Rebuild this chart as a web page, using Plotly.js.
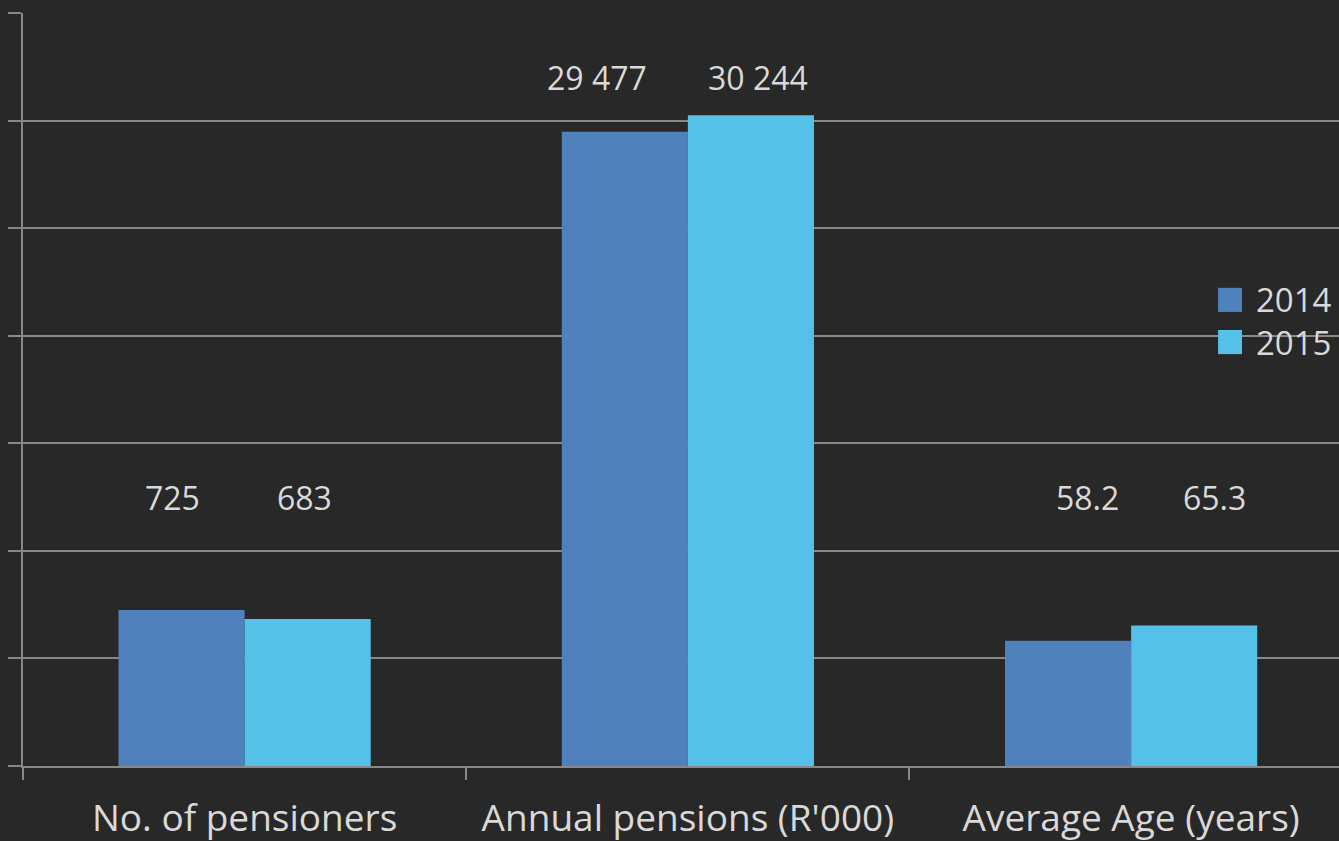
<!DOCTYPE html>
<html>
<head>
<meta charset="utf-8">
<script src="https://cdn.plot.ly/plotly-3.0.1.min.js"></script>
<style>
html,body{margin:0;padding:0;background:#282828;}
#chart{width:1339px;height:841px;}
</style>
</head>
<body>
<div id="chart"></div>
<script>
// Data
var categories = ["No. of pensioners", "Annual pensions (R'000)", "Average Age (years)"];
var values2014 = [725, 29477, 58.2];
var values2015 = [683, 30244, 65.3];
// The original chart draws each category on its own scale (R'000 /10, years x10)
var scaleFactors = [1, 0.1, 10];
var decimals = [0, 0, 1];
var seriesNames = ["2014", "2015"];
var seriesColors = ["#4F81BD", "#55C0E8"];

function fmt(v, d) {
  var s = v.toFixed(d);
  var parts = s.split(".");
  parts[0] = parts[0].replace(/\B(?=(\d{3})+(?!\d))/g, " ");
  return parts.join(".");
}

var scaled2014 = values2014.map(function (v, i) { return v * scaleFactors[i]; });
var scaled2015 = values2015.map(function (v, i) { return v * scaleFactors[i]; });

var textColor = "#D9D9D9";
var gridColor = "#888888";
var font = "Open Sans, sans-serif";

var traces = [
  {type: "bar", name: seriesNames[0], x: categories, y: scaled2014,
   marker: {color: seriesColors[0]}, hoverinfo: "skip", showlegend: false},
  {type: "bar", name: seriesNames[1], x: categories, y: scaled2015,
   marker: {color: seriesColors[1]}, hoverinfo: "skip", showlegend: false}
];

// free-floating value labels: row height (data units) and pixel shift from category centre
var labelRowY = [1250, 3200, 1250];
var labelShift = [[-72, -91, -44], [60, 70, 83]];
var annotations = [];
[values2014, values2015].forEach(function (vals, s) {
  vals.forEach(function (v, i) {
    annotations.push({
      x: categories[i], y: labelRowY[i], xref: "x", yref: "y",
      xshift: labelShift[s][i],
      text: fmt(v, decimals[i]), showarrow: false,
      font: {family: font, size: 32, color: textColor}
    });
  });
});

// legend drawn as squares + text on the right
var shapes = [];
var legendRows = [0.619, 0.563];
seriesNames.forEach(function (name, s) {
  var yc = legendRows[s];
  shapes.push({type: "rect", xref: "paper", yref: "paper",
    x0: 0.9081, x1: 0.9263, y0: yc - 0.016, y1: yc + 0.016,
    fillcolor: seriesColors[s], line: {width: 0}});
  annotations.push({xref: "paper", yref: "paper", x: 0.9354, y: yc,
    xanchor: "left", yanchor: "middle", text: name, showarrow: false,
    font: {family: font, size: 33, color: textColor}});
});

var layout = {
  width: 1339, height: 841,
  paper_bgcolor: "#282828", plot_bgcolor: "#282828",
  margin: {l: 23, r: 0, t: 13, b: 75},
  barmode: "group", bargap: 0.431, bargroupgap: 0,
  font: {family: font, color: textColor},
  xaxis: {
    type: "category",
    range: [-0.5, 2.469],
    showline: true, linecolor: gridColor, linewidth: 2,
    ticks: "outside", tickson: "boundaries", ticklen: 12, tickcolor: gridColor, tickwidth: 2,
    showgrid: false,
    tickfont: {family: font, size: 37, color: textColor},
    ticklabelstandoff: 19
  },
  yaxis: {
    range: [0, 3500], dtick: 500,
    showticklabels: false,
    showline: true, linecolor: gridColor, linewidth: 2,
    ticks: "outside", ticklen: 13, tickcolor: gridColor, tickwidth: 2,
    showgrid: true, gridcolor: gridColor, gridwidth: 2,
    zeroline: false
  },
  showlegend: false,
  shapes: shapes,
  annotations: annotations
};

Plotly.newPlot("chart", traces, layout, {displayModeBar: false, staticPlot: true});
</script>
</body>
</html>
